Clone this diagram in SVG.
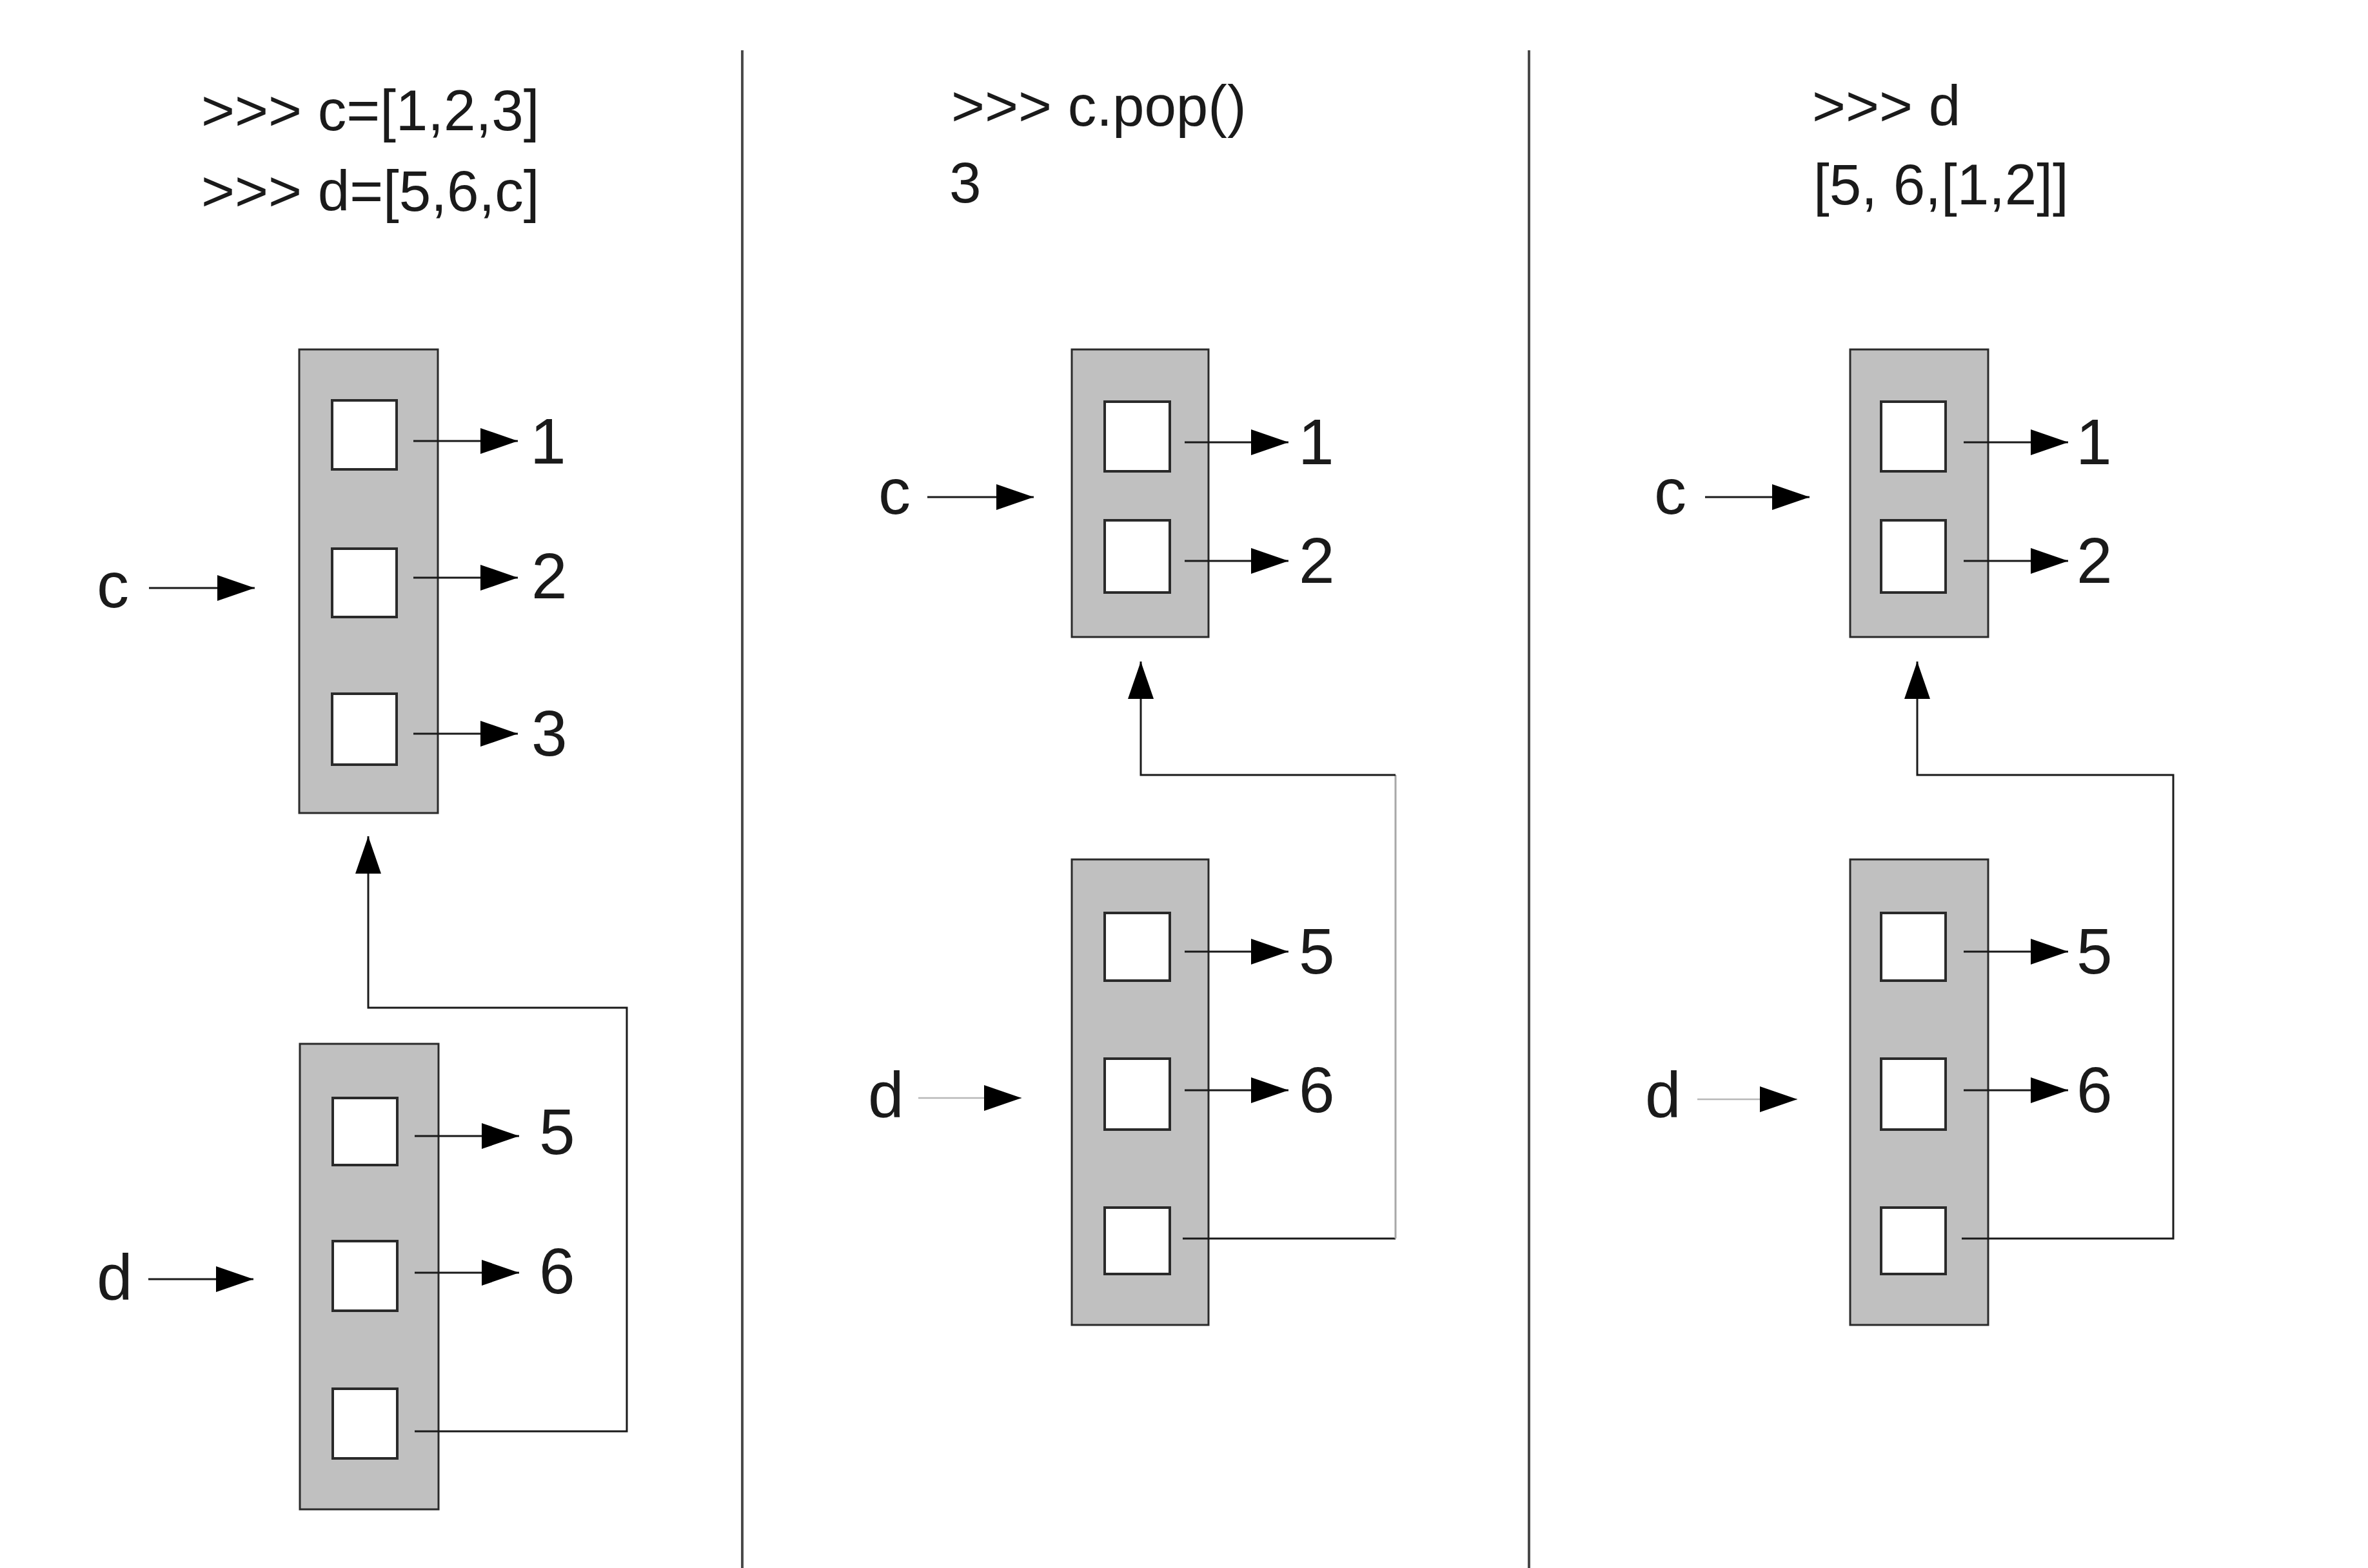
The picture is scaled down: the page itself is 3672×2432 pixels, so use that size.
<svg xmlns="http://www.w3.org/2000/svg" width="3672" height="2432" viewBox="0 0 3672 2432">
<style>
text{font-family:"Liberation Sans",Arial,Helvetica,sans-serif;fill:#1a1a1a}
.title{font-size:89px}
.lbl{font-size:100px}
.list{fill:#c0c0c0;stroke:#2a2a2a;stroke-width:3}
.cell{fill:#ffffff;stroke:#2a2a2a;stroke-width:4}
.con{fill:none;stroke:#1a1a1a;stroke-width:3}
.arr{fill:none;stroke:#1a1a1a;stroke-width:3;marker-end:url(#ah)}
.arrl{fill:none;stroke:#b8b8b8;stroke-width:2.5;marker-end:url(#ah)}
.div{stroke:#4a4a4a;stroke-width:4}
</style>
<defs>
<marker id="ah" markerUnits="userSpaceOnUse" markerWidth="60" markerHeight="42" refX="58" refY="20" orient="auto">
<path d="M0,0 L58,20 L0,40 Z" fill="#000"/>
</marker>
</defs>
<rect width="3672" height="2432" fill="#fff"/>

<g id="dividers">
<line class="div" x1="1151" y1="78" x2="1151" y2="2432"/>
<line class="div" x1="2371" y1="78" x2="2371" y2="2432"/>
</g>

<!-- Panel 1 -->
<g id="p1-title">
<text class="title" x="312" y="202">&gt;&gt;&gt; c=[1,2,3]</text>
<text class="title" x="312" y="327">&gt;&gt;&gt; d=[5,6,c]</text>
</g>
<g id="p1-c-list">
<rect class="list" x="464" y="542" width="215" height="719"/>
<rect class="cell" x="515" y="621" width="100" height="107"/>
<rect class="cell" x="515" y="851" width="100" height="106"/>
<rect class="cell" x="515" y="1076" width="100" height="110"/>
</g>
<g id="p1-d-list">
<rect class="list" x="465" y="1619" width="215" height="722"/>
<rect class="cell" x="516" y="1703" width="100" height="104"/>
<rect class="cell" x="516" y="1925" width="100" height="108"/>
<rect class="cell" x="516" y="2154" width="100" height="108"/>
</g>
<g id="p1-c-var"><text class="lbl" x="150" y="942">c</text></g>
<g id="p1-d-var"><text class="lbl" x="150" y="2016">d</text></g>
<g id="p1-values">
<text class="lbl" x="822" y="719">1</text>
<text class="lbl" x="824" y="928">2</text>
<text class="lbl" x="824" y="1172">3</text>
<text class="lbl" x="836" y="1790">5</text>
<text class="lbl" x="836" y="2006">6</text>
</g>

<!-- Panel 2 -->
<g id="p2-title">
<text class="title" x="1475" y="195">&gt;&gt;&gt; c.pop()</text>
<text class="title" x="1472" y="314">3</text>
</g>
<g id="p2-c-list">
<rect class="list" x="1662" y="542" width="212" height="446"/>
<rect class="cell" x="1713" y="623" width="101" height="108"/>
<rect class="cell" x="1713" y="807" width="101" height="112"/>
</g>
<g id="p2-d-list">
<rect class="list" x="1662" y="1333" width="212" height="722"/>
<rect class="cell" x="1713" y="1416" width="101" height="105"/>
<rect class="cell" x="1713" y="1642" width="101" height="110"/>
<rect class="cell" x="1713" y="1873" width="101" height="103"/>
</g>
<g id="p2-c-var"><text class="lbl" x="1362" y="797">c</text></g>
<g id="p2-d-var"><text class="lbl" x="1346" y="1733">d</text></g>
<g id="p2-values">
<text class="lbl" x="2013" y="720">1</text>
<text class="lbl" x="2014" y="904">2</text>
<text class="lbl" x="2014" y="1510">5</text>
<text class="lbl" x="2014" y="1725">6</text>
</g>

<!-- Panel 3 -->
<g id="p3-title">
<text class="title" x="2810" y="195">&gt;&gt;&gt; d</text>
<text class="title" x="2812" y="317">[5, 6,[1,2]]</text>
</g>
<g id="p3-c-list">
<rect class="list" x="2869" y="542" width="214" height="446"/>
<rect class="cell" x="2917" y="623" width="100" height="108"/>
<rect class="cell" x="2917" y="807" width="100" height="112"/>
</g>
<g id="p3-d-list">
<rect class="list" x="2869" y="1333" width="214" height="722"/>
<rect class="cell" x="2917" y="1416" width="100" height="105"/>
<rect class="cell" x="2917" y="1642" width="100" height="110"/>
<rect class="cell" x="2917" y="1873" width="100" height="103"/>
</g>
<g id="p3-c-var"><text class="lbl" x="2565" y="797">c</text></g>
<g id="p3-d-var"><text class="lbl" x="2551" y="1733">d</text></g>
<g id="p3-values">
<text class="lbl" x="3219" y="720">1</text>
<text class="lbl" x="3220" y="904">2</text>
<text class="lbl" x="3220" y="1510">5</text>
<text class="lbl" x="3220" y="1725">6</text>
</g>

<g id="connectors">
<!-- panel 1 -->
<line class="arr" x1="231" y1="912" x2="395" y2="912"/>
<line class="arr" x1="230" y1="1984" x2="393" y2="1984"/>
<line class="arr" x1="641" y1="684" x2="803" y2="684"/>
<line class="arr" x1="641" y1="896" x2="803" y2="896"/>
<line class="arr" x1="641" y1="1138" x2="803" y2="1138"/>
<line class="arr" x1="643" y1="1762" x2="805" y2="1762"/>
<line class="arr" x1="643" y1="1974" x2="805" y2="1974"/>
<polyline class="arr" points="643,2220 972,2220 972,1563 571,1563 571,1297"/>
<!-- panel 2 -->
<line class="arr" x1="1438" y1="771" x2="1603" y2="771"/>
<line class="arrl" x1="1424" y1="1703" x2="1584" y2="1703"/>
<line class="arr" x1="1837" y1="686" x2="1998" y2="686"/>
<line class="arr" x1="1837" y1="870" x2="1998" y2="870"/>
<line class="arr" x1="1837" y1="1476" x2="1998" y2="1476"/>
<line class="arr" x1="1837" y1="1691" x2="1998" y2="1691"/>
<polyline class="con" points="1834,1921 2164,1921"/>
<line x1="2164" y1="1921" x2="2164" y2="1202" stroke="#a8a8a8" stroke-width="3"/>
<polyline class="arr" points="2164,1202 1769,1202 1769,1026"/>
<!-- panel 3 -->
<line class="arr" x1="2644" y1="771" x2="2806" y2="771"/>
<line class="arrl" x1="2632" y1="1705" x2="2787" y2="1705"/>
<line class="arr" x1="3045" y1="686" x2="3207" y2="686"/>
<line class="arr" x1="3045" y1="870" x2="3207" y2="870"/>
<line class="arr" x1="3045" y1="1476" x2="3207" y2="1476"/>
<line class="arr" x1="3045" y1="1691" x2="3207" y2="1691"/>
<polyline class="arr" points="3042,1921 3370,1921 3370,1202 2973,1202 2973,1026"/>
</g>
</svg>
